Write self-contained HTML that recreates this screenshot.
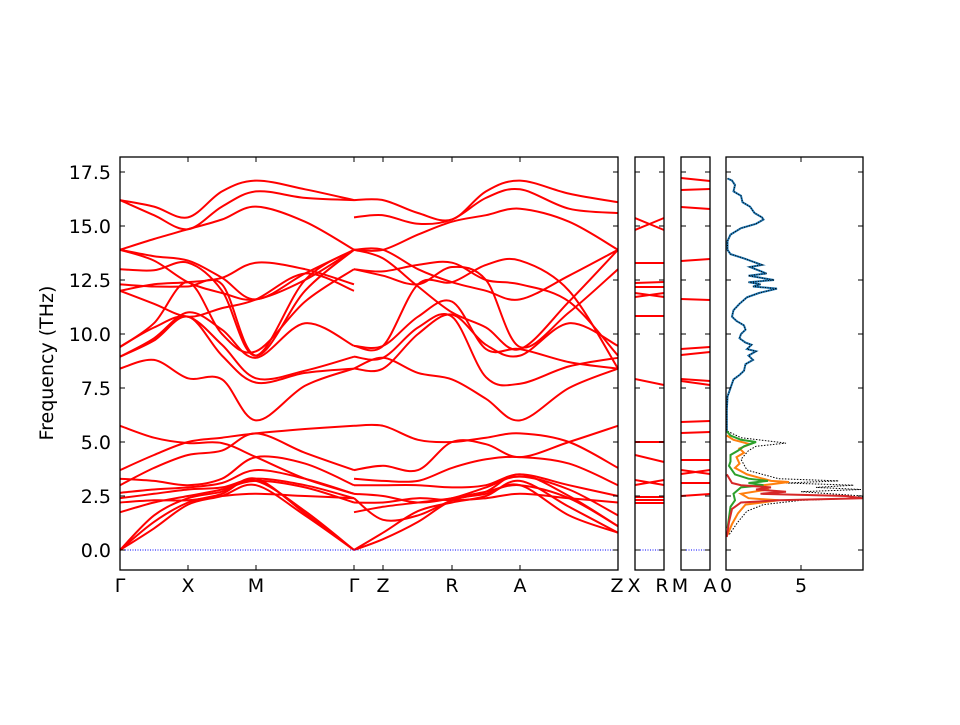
<!DOCTYPE html>
<html><head><meta charset="utf-8"><style>
html,body{margin:0;padding:0;background:#fff;}
svg text{font-family:"DejaVu Sans","Liberation Sans",sans-serif;font-size:19px;fill:#000;}
</style></head><body>
<svg id="s" width="960" height="720" xmlns="http://www.w3.org/2000/svg">
<rect width="960" height="720" fill="#fff"/>
<g id="bands" fill="none" stroke="#ff0000" stroke-width="2"></g>
<g id="small" fill="none" stroke="#ff0000" stroke-width="2"></g>
<g id="dos" fill="none"></g>
<g stroke="#0000ff" stroke-width="1" stroke-dasharray="1,1.5">
<line x1="120" y1="550" x2="618" y2="550"/>
<line x1="635" y1="550" x2="664" y2="550"/>
<line x1="681" y1="550" x2="710" y2="550"/>
</g>
<g id="ticks" stroke="#000" stroke-width="1"></g>
<g fill="none" stroke="#000" stroke-width="1.3">
<rect x="120" y="157" width="498" height="413"/>
<rect x="635" y="157" width="29" height="413"/>
<rect x="681" y="157" width="29" height="413"/>
<rect x="726" y="157" width="137" height="413"/>
</g>
<g text-anchor="end">
<text x="111" y="557">0.0</text><text x="111" y="503">2.5</text><text x="111" y="449">5.0</text>
<text x="111" y="395">7.5</text><text x="111" y="341">10.0</text><text x="111" y="287">12.5</text>
<text x="111" y="233">15.0</text><text x="111" y="179">17.5</text>
</g>
<text x="53" y="363" text-anchor="middle" transform="rotate(-90 53 363)">Frequency (THz)</text>
<g text-anchor="middle">
<text x="120" y="592">Γ</text><text x="188" y="592">X</text><text x="256" y="592">M</text>
<text x="354" y="592">Γ</text><text x="383" y="592">Z</text><text x="452" y="592">R</text>
<text x="520" y="592">A</text><text x="617" y="592">Z</text><text x="634" y="592">X</text>
<text x="662" y="592">R</text><text x="680" y="592">M</text><text x="710" y="592">A</text>
<text x="726" y="592">0</text><text x="801" y="592">5</text>
</g>
</svg>
<script>
var NS="http://www.w3.org/2000/svg";
function Y(f){return 550-f*21.6;}
function cr(xs,fs){var p=xs.map(function(x,i){return [x,Y(fs[i])];});
 var d="M"+p[0][0]+","+p[0][1];
 for(var i=0;i<p.length-1;i++){var p0=p[i-1]||p[i],p1=p[i],p2=p[i+1],p3=p[i+2]||p[i+1];
  var c1=[p1[0]+(p2[0]-p0[0])/6,p1[1]+(p2[1]-p0[1])/6],c2=[p2[0]-(p3[0]-p1[0])/6,p2[1]-(p3[1]-p1[1])/6];
  d+="C"+c1[0].toFixed(1)+","+c1[1].toFixed(1)+" "+c2[0].toFixed(1)+","+c2[1].toFixed(1)+" "+p2[0]+","+p2[1].toFixed(1);}
 return d;}
function path(g,d,attrs){var e=document.createElementNS(NS,"path");e.setAttribute("d",d);for(var k in attrs)e.setAttribute(k,attrs[k]);document.getElementById(g).appendChild(e);}
var x1=[120,154,188,222,256,305,354];
var b1=[[16.2,15.9,15.4,16.6,17.1,16.7,16.2],[16.2,15.5,14.85,15.9,16.6,16.3,16.2],[13.9,14.4,14.85,15.3,15.9,15.2,13.9],
[13.9,13.6,13.4,12.6,11.6,12.8,13.9],[13.9,13.4,12.4,11.9,11.6,12.5,13.9],[13.0,12.95,13.3,12.0,9.0,12.5,13.9],
[12.3,12.2,12.2,12.3,9.0,12.0,13.9],[12.0,12.3,12.4,12.6,13.3,13.0,12.3],[12.0,11.4,10.8,11.2,11.6,12.8,12.0],
[8.4,8.8,7.95,7.9,6.0,7.6,8.4],[8.95,9.7,10.8,9.0,7.75,8.2,8.4],[9.4,10.3,10.8,9.5,7.95,8.3,8.95],
[8.95,9.8,11.0,10.2,8.9,10.5,9.45],[9.4,10.5,12.4,10.0,9.2,11.5,13.0],
[5.75,5.2,4.95,4.95,4.3,3.3,2.6],[3.7,4.4,5.0,5.2,5.4,5.6,5.75],[3.0,3.8,4.4,4.6,5.4,4.5,3.7],
[3.3,3.2,3.0,3.3,4.3,4.0,3.0],[2.65,2.8,2.9,3.1,3.7,3.3,2.6],[2.4,2.6,2.8,2.9,3.3,3.0,2.4],
[1.75,2.2,2.5,2.8,3.2,2.9,2.2],[2.2,2.3,2.3,2.5,2.6,2.5,2.4],[0,1.3,2.2,2.6,3.3,1.7,0],
[0,1.0,2.1,2.5,3.0,1.6,0],[0,1.6,2.4,2.7,3.2,1.8,0]];
b1.forEach(function(b){path("bands",cr(x1,b));});
var x2=[354,383,418,452,486,520,569,618];
var b2=[[16.2,16.2,15.6,15.3,16.6,17.1,16.5,16.1],[15.4,15.5,15.1,15.3,16.3,16.7,15.8,15.6],[13.9,13.9,14.6,15.2,15.5,15.8,15.2,13.9],
[13.9,13.9,13.0,12.4,12.0,11.6,12.7,13.9],[13.9,13.5,12.2,11.0,10.3,9.3,11.5,13.9],[13.0,12.9,13.2,13.3,12.5,12.3,11.5,9.0],
[13.0,12.7,12.3,13.1,12.5,9.4,11.0,13.0],[9.45,9.45,12.3,12.4,13.2,13.4,12.0,8.4],[8.95,8.9,10.3,10.8,8.0,7.7,8.5,8.9],
[8.4,8.4,10.0,10.9,9.5,9.0,10.5,9.45],[8.4,8.9,8.2,7.9,7.0,6.0,7.5,8.4],[9.45,9.45,10.8,11.5,9.3,9.3,8.7,8.4],
[5.75,5.75,5.1,5.0,5.2,5.4,5.0,3.8],[3.7,3.9,3.7,5.0,4.9,4.3,5.0,5.75],[3.3,3.2,3.2,3.8,4.2,4.3,4.0,3.0],
[3.0,3.0,3.0,2.9,3.0,3.5,3.0,2.5],[2.6,2.5,2.2,2.4,2.9,3.4,2.8,1.6],[2.4,1.4,1.6,2.3,2.7,3.5,2.5,1.1],
[0,0.8,1.8,2.2,2.5,3.2,2.0,0.8],[0,0.5,1.3,2.3,2.6,3.0,1.6,0.8],[2.2,2.2,2.4,2.3,2.4,2.6,2.4,2.2],
[1.75,2.0,2.2,2.4,2.7,3.0,2.4,1.1]];
b2.forEach(function(b){path("bands",cr(x2,b));});
var xr=[[218,230],[230,218],[263,263],[283,282],[287,287],[293,297],[297,293],[316,316],[379,385],[442,442],[455,462],[480,485],[485,480],[497,497],[500,500],[503,503]];
xr.forEach(function(l){path("small","M635,"+l[0]+"L664,"+l[1]);});
var ma=[[178,181],[190,189],[207,209],[261,259],[299,300],[349,347],[355,352],[379,381],[381,385],[422,421],[433,432],[460,460],[470,474],[474,470],[483,483],[496,494]];
ma.forEach(function(l){path("small","M681,"+l[0]+"L710,"+l[1]);});
var t=document.getElementById("ticks");
function ln(a,b,c,d){var e=document.createElementNS(NS,"line");e.setAttribute("x1",a);e.setAttribute("y1",b);e.setAttribute("x2",c);e.setAttribute("y2",d);t.appendChild(e);}
[0,2.5,5,7.5,10,12.5,15,17.5].forEach(function(f){var y=Y(f);
 [[120,618],[635,664],[681,710],[726,863]].forEach(function(p){ln(p[0],y,p[0]+5,y);ln(p[1],y,p[1]-5,y);});});
[188,256,354,383,452,520].forEach(function(x){ln(x,157,x,162);ln(x,570,x,565);});
ln(801,157,801,162);ln(801,570,801,565);
function dp(pts){return "M"+pts.map(function(p){return (726+p[0]*15).toFixed(1)+","+Y(p[1]).toFixed(1);}).join("L");}
var blue=[[0.1,17.2],[0.4,17.1],[0.6,16.9],[0.5,16.6],[1.0,16.4],[1.1,16.1],[1.6,15.9],[1.9,15.6],[2.4,15.4],[2.5,15.3],[2.0,15.1],[1.0,14.9],[0.3,14.6],[0.1,14.3],[0.1,13.9],[0.3,13.7],[1.2,13.5],[2.4,13.2],[1.6,13.1],[2.7,12.8],[1.5,12.7],[3.2,12.5],[1.5,12.4],[2.3,12.3],[1.8,12.2],[3.4,12.1],[2.2,11.9],[1.4,11.7],[0.9,11.4],[0.5,11.1],[0.4,10.8],[0.7,10.6],[1.2,10.4],[1.3,10.2],[1.0,10.0],[0.9,9.8],[1.3,9.6],[1.7,9.5],[1.4,9.3],[2.0,9.2],[1.5,9.0],[1.8,8.8],[1.3,8.6],[1.2,8.3],[0.9,8.1],[0.5,7.9],[0.3,7.5],[0.1,7.1],[0.05,6.5],[0.05,5.5]];
path("dos",dp(blue),{stroke:"#1f77b4","stroke-width":2});
path("dos",dp(blue),{stroke:"#000","stroke-width":1,"stroke-dasharray":"1,1.5"});
var green=[[0.05,5.5],[0.3,5.3],[1.0,5.1],[2.0,5.0],[1.2,4.8],[0.8,4.6],[0.3,4.4],[0.3,4.1],[0.2,3.9],[0.6,3.5],[1.5,3.3],[2.8,3.2],[1.5,3.1],[2.5,3.0],[1.0,2.9],[0.5,2.6],[0.6,2.3],[0.3,2.0],[0.2,1.5],[0.1,1.0]];
var orange=[[0.05,5.3],[0.5,5.1],[1.6,4.9],[0.9,4.7],[1.2,4.5],[0.7,4.3],[0.9,4.0],[0.6,3.8],[1.4,3.5],[3.0,3.2],[4.2,3.15],[2.5,3.0],[2.8,2.8],[1.0,2.6],[1.5,2.4],[3.5,2.3],[1.3,2.1],[0.8,1.7],[0.4,1.2],[0.1,0.7]];
var red=[[0.05,3.5],[0.4,3.1],[1.0,3.0],[3.0,2.9],[2.0,2.8],[4.0,2.7],[2.3,2.6],[8.0,2.5],[9.1,2.4],[3.5,2.3],[1.0,2.2],[0.4,1.9],[0.2,1.3],[0.05,0.6]];
var blk=[[0.1,5.5],[1.0,5.2],[4.0,4.95],[2.0,4.8],[1.5,4.6],[1.0,4.2],[1.4,3.7],[3.5,3.3],[7.5,3.2],[4.0,3.1],[8.5,3.0],[6.0,2.9],[9.0,2.8],[5.0,2.7],[9.1,2.5],[9.1,2.4],[5.0,2.3],[2.5,2.1],[1.4,1.8],[0.8,1.3],[0.2,0.7]];
path("dos",dp(blk),{stroke:"#000","stroke-width":1,"stroke-dasharray":"1.5,1.5"});
path("dos",dp(orange),{stroke:"#ff7f0e","stroke-width":2});
path("dos",dp(green),{stroke:"#2ca02c","stroke-width":2});
path("dos",dp(red),{stroke:"#d62728","stroke-width":2});
</script>
</body></html>
